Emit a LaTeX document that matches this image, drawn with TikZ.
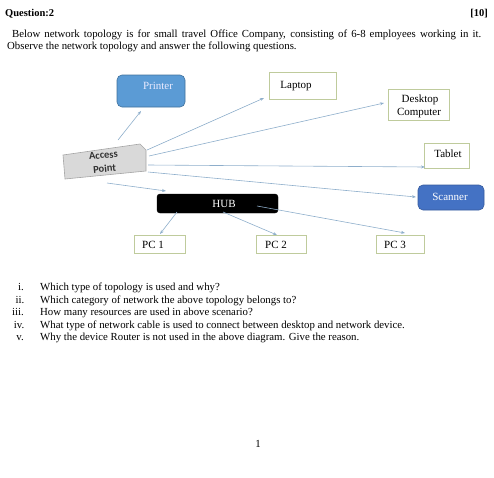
\documentclass[tikz,border=0pt]{standalone}
\usepackage{fontspec}
\setmainfont{Liberation Serif}
\newfontfamily\apfont{Carlito}
\usetikzlibrary{arrows.meta}
\definecolor{arr}{HTML}{8EAECB}
\definecolor{boxb}{HTML}{BFCB9C}
\definecolor{pfill}{HTML}{5B9BD5}
\definecolor{pborder}{HTML}{41719C}
\definecolor{sfill}{HTML}{4472C4}
\definecolor{apfill}{HTML}{D9D9D9}
\definecolor{apborder}{HTML}{A5A5A5}
\begin{document}
\begin{tikzpicture}[x=1pt,y=-1pt,
  txt/.style={inner sep=0pt,font=\fontsize{10.8}{12}\selectfont},
  btxt/.style={inner sep=0pt,font=\fontsize{11}{12}\selectfont},
  wbox/.style={draw=boxb,line width=0.8pt,fill=white,inner sep=0pt},
  bbox/.style={draw=pborder,line width=0.6pt,fill=pfill,rounded corners=5pt,inner sep=0pt},
  conn/.style={draw=arr,line width=0.6pt,-{Stealth[length=4pt,width=3pt]}},
  qlab/.style={txt,anchor=base},
  qtxt/.style={txt,anchor=base west}]
\useasboundingbox (0,0) rectangle (494,477);
% header
\node[txt,anchor=base west,font=\fontsize{10.5}{12}\selectfont\bfseries] (q) at (5,16) {Question:2};
\node[txt,anchor=base east,font=\fontsize{10.5}{12}\selectfont\bfseries] (pts) at (488,16) {[10]};
\node[txt,anchor=base west] (p1) at (12,37) {\makebox[469pt][s]{Below network topology is for small travel Office Company, consisting of 6-8 employees working in it.}};
\node[txt,anchor=base west] (p2) at (7,49) {Observe the network topology and answer the following questions.};
% devices
\node[bbox,minimum width=68pt,minimum height=32pt] (printer) at (151,91) {};
\node[btxt,text=white!92!blue] at (158,86) {Printer};
\node[wbox,minimum width=67pt,minimum height=27pt] (laptop) at (302.5,85.5) {};
\node[btxt] at (296,86) {Laptop};
\node[wbox,minimum width=61pt,minimum height=31pt,align=center] (desk) at (418.5,104.5) {};
\node[btxt] at (420,100) {Desktop};
\node[btxt] at (419,113) {Computer};
\node[wbox,minimum width=45pt,minimum height=25pt] (tablet) at (446.5,155.5) {};
\node[btxt] at (448,154) {Tablet};
\node[bbox,draw=sfill!80!black,fill=sfill,minimum width=66pt,minimum height=25pt] (scanner) at (451,197.5) {};
\node[btxt,text=white] at (450,197) {Scanner};
\node[draw=black,fill=black,rounded corners=3pt,minimum width=121pt,minimum height=19pt,inner sep=0pt] (hub) at (217.5,203.5) {};
\node[btxt,text=white] at (224,204) {HUB};
\node[wbox,minimum width=51pt,minimum height=18pt] (pc1) at (159.5,244) {};
\node[btxt] at (153,245) {PC 1};
\node[wbox,minimum width=50pt,minimum height=18pt] (pc2) at (281,244) {};
\node[btxt] at (276,245) {PC 2};
\node[wbox,minimum width=48pt,minimum height=18pt] (pc3) at (400,244) {};
\node[btxt] at (395,245) {PC 3};
% access point
\fill[apfill,draw=apborder,line width=0.6pt] (63,155) -- (140,144) -- (146,150) -- (146,171) -- (65,179) -- cycle;
\node[inner sep=0pt,rotate=5,align=center,font=\apfont\bfseries\fontsize{10.5}{13.5}\selectfont,text=black!80] (aplabel) at (104,162) {Access\\Point};
% connectors
\coordinate (a1) at (118,140);
\coordinate (a2) at (147,150);
\coordinate (a3) at (149,156);
\coordinate (a4) at (148,165);
\coordinate (a5) at (148,172);
\coordinate (a6) at (107,183);
\draw[conn] (a1) -- (141,111);
\draw[conn] (a2) -- (264,98);
\draw[conn] (a3) -- (384,103);
\draw[conn] (a4) -- (425,167);
\draw[conn] (a5) -- (416,197);
\draw[conn] (a6) -- (166,191);
\coordinate (h1) at (177,212);
\coordinate (h2) at (223,212);
\coordinate (h3) at (257,206);
\draw[conn] (h1) -- (160,234);
\draw[conn] (h2) -- (277,235);
\draw[conn] (h3) -- (405,233);
% questions
\node[qlab] (l1) at (21,290) {i.};
\node[qtxt] (t1) at (40,290) {Which type of topology is used and why?};
\node[qlab] (l2) at (20,303) {ii.};
\node[qtxt] (t2) at (40,303) {Which category of network the above topology belongs to?};
\node[qlab] (l3) at (18,315) {iii.};
\node[qtxt] (t3) at (40,315) {How many resources are used in above scenario?};
\node[qlab] (l4) at (19,328) {iv.};
\node[qtxt] (t4) at (40,328) {What type of network cable is used to connect between desktop and network device.};
\node[qlab] (l5) at (20,340) {v.};
\node[qtxt] (t5) at (40,340) {Why the device Router is not used in the above diagram. Give the reason.};
\node[txt,anchor=base] (pg) at (258,447) {1};
\end{tikzpicture}
\end{document}
